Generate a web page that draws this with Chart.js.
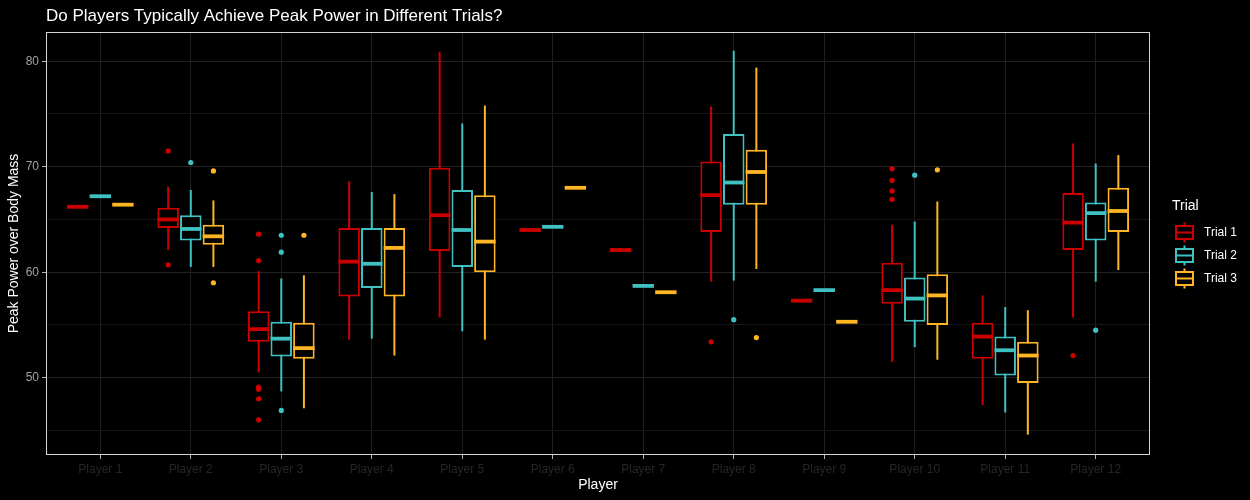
<!DOCTYPE html>
<html>
<head>
<meta charset="utf-8">
<script src="https://cdn.jsdelivr.net/npm/chart.js@4.4.1/dist/chart.umd.min.js"></script>
<style>
  html, body { margin: 0; padding: 0; background: #000; }
</style>
</head>
<body>
<canvas id="myChart" width="1250" height="500"></canvas>
<script>
// Players on the x axis and the three trials
const players = ['Player 1', 'Player 2', 'Player 3', 'Player 4', 'Player 5', 'Player 6',
                 'Player 7', 'Player 8', 'Player 9', 'Player 10', 'Player 11', 'Player 12'];
const trials = ['Trial 1', 'Trial 2', 'Trial 3'];
const trialColors = ['#CD0000', '#3FC1C1', '#FFB524'];
const yTicks = [45, 50, 55, 60, 65, 70, 75, 80];

// box stats per player: lower whisker, Q1, median, Q3, upper whisker
const t1Low = [66.2, 62.1, 50.5, 53.6, 55.7, 64.0, 62.1, 59.1, 57.3, 51.5, 47.4, 55.7];
const t1Q1  = [66.2, 64.2, 53.4, 57.7, 62.0, 64.0, 62.1, 63.8, 57.3, 57.0, 51.8, 62.1];
const t1Med = [66.2, 65.0, 54.6, 61.0, 65.4, 64.0, 62.1, 67.3, 57.3, 58.3, 53.9, 64.7];
const t1Q3  = [66.2, 66.1, 56.3, 64.2, 69.9, 64.0, 62.1, 70.5, 57.3, 60.9, 55.2, 67.5];
const t1High= [66.2, 68.1, 60.1, 68.6, 80.9, 64.0, 62.1, 75.7, 57.3, 64.5, 57.8, 72.2];
const t1Out = [[], [71.5, 60.7], [63.6, 61.1, 49.1, 48.9, 48.0, 46.0], [], [], [], [], [53.4], [],
               [69.8, 68.7, 67.7, 66.9], [], [52.1]];

const t2Low = [67.2, 60.5, 48.7, 53.7, 54.4, 64.3, 58.7, 59.2, 58.3, 52.9, 46.7, 59.1];
const t2Q1  = [67.2, 63.0, 52.0, 58.5, 60.5, 64.3, 58.7, 66.4, 58.3, 55.3, 50.2, 63.0];
const t2Med = [67.2, 64.1, 53.7, 60.8, 64.0, 64.3, 58.7, 68.5, 58.3, 57.5, 52.6, 65.6];
const t2Q3  = [67.2, 65.4, 55.3, 64.2, 67.8, 64.3, 58.7, 73.1, 58.3, 59.5, 53.9, 66.6];
const t2High= [67.2, 67.8, 59.4, 67.6, 74.1, 64.3, 58.7, 81.0, 58.3, 64.8, 56.7, 70.3];
const t2Out = [[], [70.4], [63.5, 61.9, 46.9], [], [], [], [], [55.5], [], [69.2], [], [54.5]];

const t3Low = [66.4, 60.5, 47.1, 52.1, 53.6, 68.0, 58.1, 60.3, 55.3, 51.7, 44.6, 60.2];
const t3Q1  = [66.4, 62.6, 51.8, 57.7, 60.0, 68.0, 58.1, 66.4, 55.3, 55.0, 49.5, 63.8];
const t3Med = [66.4, 63.4, 52.8, 62.3, 62.9, 68.0, 58.1, 69.5, 55.3, 57.8, 52.1, 65.8];
const t3Q3  = [66.4, 64.5, 55.2, 64.2, 67.3, 68.0, 58.1, 71.6, 55.3, 59.8, 53.4, 68.0];
const t3High= [66.4, 66.8, 59.7, 67.4, 75.8, 68.0, 58.1, 79.4, 55.3, 66.7, 56.4, 71.1];
const t3Out = [[], [69.6, 59.0], [63.5], [], [], [], [], [53.8], [], [69.7], [], []];

const stats = [
  { low: t1Low, q1: t1Q1, med: t1Med, q3: t1Q3, high: t1High, out: t1Out },
  { low: t2Low, q1: t2Q1, med: t2Med, q3: t2Q3, high: t2High, out: t2Out },
  { low: t3Low, q1: t3Q1, med: t3Med, q3: t3Q3, high: t3High, out: t3Out },
];

// dodge each trial inside the player slot
const dodge = [-0.25, 0, 0.25];
const datasets = [];

stats.forEach((s, t) => {
  const col = trialColors[t];
  const xs = players.map((p, i) => i + 1 + dodge[t]);
  // whisker (drawn first, box covers the middle)
  datasets.push({
    type: 'bar',
    label: trials[t] + ' whisker',
    data: xs.map((x, i) => ({ x: x, y: [s.low[i], s.high[i]] })),
    backgroundColor: col,
    borderWidth: 0,
    grouped: false,
    categoryPercentage: 1,
    barPercentage: 0.1,
    maxBarThickness: 2,
    order: 4,
  });
  // box Q1-Q3
  datasets.push({
    type: 'bar',
    label: trials[t],
    data: xs.map((x, i) => ({ x: x, y: [s.q1[i], s.q3[i]] })),
    backgroundColor: '#000000',
    borderColor: col,
    borderWidth: 2,
    borderSkipped: false,
    grouped: false,
    categoryPercentage: 1,
    barPercentage: 0.95,
    order: 3,
  });
  // median line
  datasets.push({
    type: 'scatter',
    label: trials[t] + ' median',
    data: xs.map((x, i) => ({ x: x, y: s.med[i] })),
    pointStyle: 'line',
    pointRadius: 10.7,
    pointBorderColor: col,
    pointBorderWidth: 3.8,
    order: 2,
  });
  // outliers
  const outPts = [];
  s.out.forEach((arr, i) => arr.forEach(v => outPts.push({ x: xs[i], y: v })));
  datasets.push({
    type: 'scatter',
    label: trials[t] + ' outliers',
    data: outPts,
    pointStyle: 'circle',
    pointRadius: 2.6,
    pointBackgroundColor: col,
    pointBorderWidth: 0,
    order: 1,
  });
});

const FONT = '"Liberation Sans", Arial, sans-serif';

// panel border, title and the legend with box glyphs
const decorPlugin = {
  id: 'decor',
  afterDraw(chart) {
    const { ctx, chartArea: a } = chart;
    ctx.save();
    ctx.strokeStyle = '#d4d4d4';
    ctx.lineWidth = 1;
    ctx.strokeRect(a.left + 0.5, a.top + 0.5, a.right - a.left - 1, a.bottom - a.top - 1);

    ctx.fillStyle = '#ffffff';
    ctx.font = '17px ' + FONT;
    ctx.textBaseline = 'middle';
    ctx.textAlign = 'left';
    ctx.fillText('Do Players Typically Achieve Peak Power in Different Trials?', a.left, 16);

    // legend
    const lx = 1172;
    ctx.font = '14px ' + FONT;
    ctx.fillText('Trial', lx, 206);
    ctx.font = '12px ' + FONT;
    trials.forEach((name, t) => {
      const cy = 232.5 + t * 23;
      const bx = 1176, bw = 17;
      ctx.strokeStyle = trialColors[t];
      ctx.lineWidth = 2;
      ctx.beginPath();
      ctx.moveTo(bx + bw / 2, cy - 10); ctx.lineTo(bx + bw / 2, cy - 6.5);
      ctx.moveTo(bx + bw / 2, cy + 6.5); ctx.lineTo(bx + bw / 2, cy + 10);
      ctx.stroke();
      ctx.strokeRect(bx, cy - 6.5, bw, 13);
      ctx.beginPath();
      ctx.moveTo(bx, cy); ctx.lineTo(bx + bw, cy);
      ctx.stroke();
      ctx.fillStyle = '#ffffff';
      ctx.fillText(name, 1204, cy + 0.5);
    });
    ctx.restore();
  }
};

new Chart(document.getElementById('myChart'), {
  type: 'bar',
  data: { datasets: datasets },
  options: {
    responsive: false,
    animation: false,
    events: [],
    layout: { padding: { top: 32, right: 100, left: 0, bottom: 0 } },
    plugins: {
      legend: { display: false },
      tooltip: { enabled: false },
      title: { display: false },
    },
    scales: {
      x: {
        type: 'linear',
        min: 0.4,
        max: 12.6,
        offset: false,
        afterBuildTicks: axis => { axis.ticks = players.map((p, i) => ({ value: i + 1 })); },
        afterFit: axis => { axis.height = 45; },
        grid: { offset: false, color: '#1f1f1f', tickColor: '#b3b3b3', tickLength: 4, lineWidth: 1 },
        border: { display: false },
        ticks: {
          color: '#262626',
          font: { family: FONT, size: 12 },
          maxRotation: 0,
          autoSkip: false,
          padding: 3,
          callback: v => players[v - 1],
        },
        title: {
          display: true,
          text: 'Player',
          color: '#ffffff',
          font: { family: FONT, size: 14 },
          padding: { top: 2, bottom: 6 },
        },
      },
      y: {
        type: 'linear',
        min: 42.67,
        max: 82.77,
        afterBuildTicks: axis => { axis.ticks = yTicks.map(v => ({ value: v })); },
        afterFit: axis => { axis.width = 46; },
        grid: {
          color: c => (c.tick && c.tick.value % 10 === 0) ? '#222222' : '#161616',
          tickColor: c => (c.tick && c.tick.value % 10 === 0) ? '#b3b3b3' : 'rgba(0,0,0,0)',
          tickLength: 4,
          lineWidth: 1,
        },
        border: { display: false },
        ticks: {
          color: '#a3a3a3',
          font: { family: FONT, size: 12 },
          padding: 3,
          callback: v => (v % 10 === 0 ? String(v) : ''),
        },
        title: {
          display: true,
          text: 'Peak Power over Body Mass',
          color: '#ffffff',
          font: { family: FONT, size: 14 },
          padding: { top: 6, bottom: 4 },
        },
      },
    },
  },
  plugins: [decorPlugin],
});
</script>
</body>
</html>
